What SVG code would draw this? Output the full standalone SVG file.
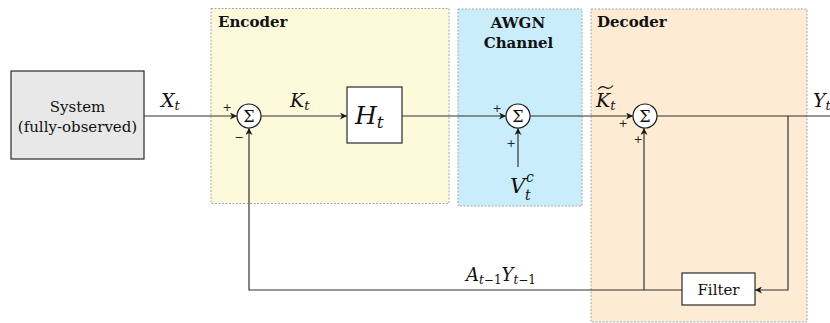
<svg xmlns="http://www.w3.org/2000/svg" width="830" height="323" viewBox="0 0 830 323">
<style>
.region{stroke:#a8a8a8;stroke-width:1;stroke-dasharray:2 1.5}
.blk{stroke:#2a2a2a;stroke-width:1.2}
.sum{fill:#ffffff;stroke:#1a1a1a;stroke-width:1.2}
.wire{fill:none;stroke:#333333;stroke-width:1.2}
.txt{font-family:"DejaVu Serif","Liberation Serif",serif;fill:#111111}
.ttl{font-family:"DejaVu Serif","Liberation Serif",serif;font-weight:bold;font-size:15px;fill:#111111}
.math{font-family:"DejaVu Serif","Liberation Serif",serif;font-style:italic;fill:#111111}
.sgn{font-family:"DejaVu Sans",sans-serif;font-size:11px;fill:#222222}
</style>
<defs>
<marker id="arr" markerUnits="userSpaceOnUse" markerWidth="8" markerHeight="7" refX="7" refY="3.5" orient="auto">
<path d="M0,0 L7,3.5 L0,7 L2,3.5 z" fill="#1a1a1a"/>
</marker>
</defs>

<g id="encoder-region">
<rect class="region" x="211" y="8.5" width="238" height="195" fill="#fdf9db"/>
<text class="ttl" x="218" y="27">Encoder</text>
</g>
<g id="awgn-region">
<rect class="region" x="458" y="9" width="124" height="197" fill="#c9edfb"/>
<text class="ttl" x="518" y="28" text-anchor="middle">AWGN</text>
<text class="ttl" x="518.5" y="48" text-anchor="middle">Channel</text>
</g>
<g id="decoder-region">
<rect class="region" x="591" y="9" width="216" height="313" fill="#fdebd3"/>
<text class="ttl" x="597" y="27">Decoder</text>
</g>

<g id="connectors">
<line class="wire" x1="144" y1="116" x2="237" y2="116" marker-end="url(#arr)"/>
<line class="wire" x1="261" y1="116" x2="347" y2="116" marker-end="url(#arr)"/>
<line class="wire" x1="402" y1="116" x2="506" y2="116" marker-end="url(#arr)"/>
<line class="wire" x1="518" y1="167" x2="518" y2="128" marker-end="url(#arr)"/>
<line class="wire" x1="530" y1="116" x2="633" y2="116" marker-end="url(#arr)"/>
<line class="wire" x1="657" y1="116" x2="830" y2="116"/>
<polyline class="wire" points="788,116 788,290 755,290" marker-end="url(#arr)"/>
<polyline class="wire" points="682,290 249,290 249,128" marker-end="url(#arr)"/>
<line class="wire" x1="644" y1="290" x2="644" y2="128" marker-end="url(#arr)"/>
</g>

<g id="system">
<rect class="blk" x="11" y="71" width="133" height="88" fill="#e8e8e8"/>
<text class="txt" x="77.5" y="112" font-size="15" text-anchor="middle">System</text>
<text class="txt" x="77.5" y="132" font-size="15" text-anchor="middle">(fully-observed)</text>
</g>

<g id="sum1">
<circle class="sum" cx="249" cy="116" r="12"/>
<text class="txt" x="249" y="122" font-size="16" text-anchor="middle">Σ</text>
<text class="sgn" x="227" y="111" text-anchor="middle">+</text>
<text class="sgn" x="239" y="141" text-anchor="middle">−</text>
</g>

<g id="H">
<rect class="blk" x="347" y="87" width="55" height="56" fill="#ffffff"/>
<text class="math" x="355" y="124" font-size="25">H<tspan font-size="17" dy="4">t</tspan></text>
</g>

<g id="sum2">
<circle class="sum" cx="518" cy="116" r="12"/>
<text class="txt" x="518" y="122" font-size="16" text-anchor="middle">Σ</text>
<text class="sgn" x="497" y="112" text-anchor="middle">+</text>
<text class="sgn" x="511" y="147" text-anchor="middle">+</text>
</g>

<g id="sum3">
<circle class="sum" cx="645" cy="116" r="12"/>
<text class="txt" x="645" y="122" font-size="16" text-anchor="middle">Σ</text>
<text class="sgn" x="623" y="127" text-anchor="middle">+</text>
<text class="sgn" x="638" y="143" text-anchor="middle">+</text>
</g>

<g id="filter">
<rect class="blk" x="682" y="273" width="73" height="32" fill="#ffffff"/>
<text class="txt" x="718.5" y="295" font-size="15" text-anchor="middle">Filter</text>
</g>

<g id="labels">
<text class="math" x="161" y="107" font-size="19">X<tspan font-size="13" dy="3">t</tspan></text>
<text class="math" x="290" y="107" font-size="19">K<tspan font-size="13" dy="3">t</tspan></text>
<text class="math" x="596" y="107" font-size="19">K<tspan font-size="13" dy="3">t</tspan></text>
<path d="M598,89.5 Q601.5,85 605.5,87.5 T613,85.5" fill="none" stroke="#111111" stroke-width="1.1"/>
<text class="math" x="813" y="107" font-size="19">Y<tspan font-size="13" dy="3">t</tspan></text>
<text class="math" x="510" y="193" font-size="21">V</text>
<text class="math" x="526" y="182" font-size="14">c</text>
<text class="math" x="525" y="200" font-size="14">t</text>
<text class="math" x="466" y="281" font-size="18">A<tspan font-size="12" dy="3">t</tspan><tspan font-size="12" font-style="normal">−1</tspan><tspan dy="-3">Y</tspan><tspan font-size="12" dy="3">t</tspan><tspan font-size="12" font-style="normal">−1</tspan></text>
</g>
</svg>
